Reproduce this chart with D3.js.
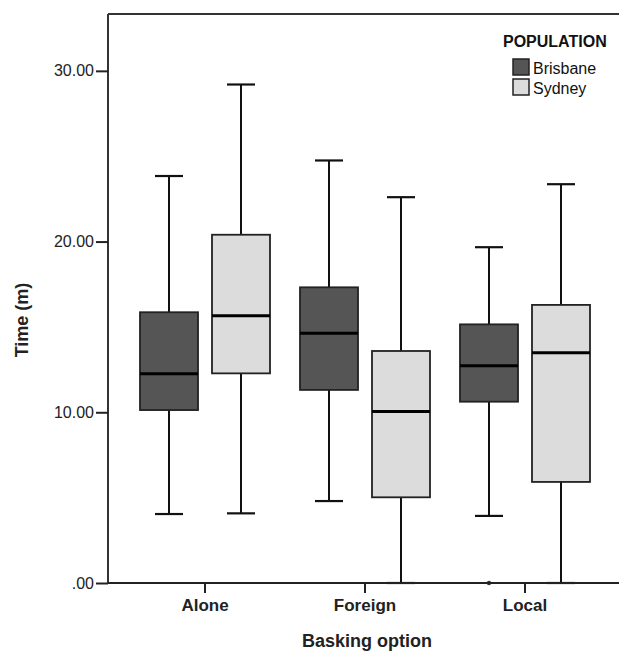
<!DOCTYPE html>
<html>
<head>
<meta charset="utf-8">
<script src="https://cdn.jsdelivr.net/npm/d3@7/dist/d3.min.js"></script>
<style>
  body { margin: 0; background: #fff; }
  svg { display: block; font-family: Arial, "Liberation Sans", sans-serif; }
</style>
</head>
<body>
<div id="chart"></div>
<script>
(function () {

    // categories and groups
    const options = ["Alone", "Foreign", "Local"];
    const populations = ["Brisbane", "Sydney"];

    // five-number summaries per option: [low, q1, median, q3, high]
    const brisbane = [
        [4.04, 10.13, 12.26, 15.86, 23.84],
        [4.80, 11.31, 14.63, 17.32, 24.75],
        [3.93, 10.62, 12.73, 15.15, 19.67]
    ];
    const sydney = [
        [4.08, 12.28, 15.66, 20.40, 29.20],
        [0.00, 5.02, 10.04, 13.59, 22.60],
        [0.00, 5.92, 13.49, 16.29, 23.36]
    ];
    // outliers: [option, population, value]
    const outliers = [["Local", "Brisbane", 0.0]];

    const yTicks = [0, 10, 20, 30];

    const colors = { Brisbane: "#555555", Sydney: "#dcdcdc" };

    // set the dimensions
    var width = 619, height = 654;
    var plot = { left: 108, top: 14, right: 625, bottom: 583 };

    var svg = d3.select("#chart").append("svg")
        .attr("width", width)
        .attr("height", height);

    // scales
    var x = d3.scaleBand().domain(options).range([125, 605]);
    var xPop = d3.scalePoint().domain(populations).range([-36, 36]);
    var y = d3.scaleLinear().domain([0, 33.33]).range([plot.bottom, plot.top]);
    var boxW = 58, capW = 28;

    // build rows
    var rows = [];
    options.forEach(function (o, i) {
        rows.push({ option: o, pop: "Brisbane", v: brisbane[i] });
        rows.push({ option: o, pop: "Sydney", v: sydney[i] });
    });
    function cx(d) { return x(d.option) + x.bandwidth() / 2 + xPop(d.pop); }

    // frame (top line)
    svg.append("line")
        .attr("x1", plot.left).attr("x2", plot.right)
        .attr("y1", plot.top).attr("y2", plot.top)
        .attr("stroke", "#333").attr("stroke-width", 2);
    svg.append("line")
        .attr("x1", plot.left).attr("x2", plot.left)
        .attr("y1", plot.top).attr("y2", plot.bottom)
        .attr("stroke", "#333").attr("stroke-width", 2);

    var g = svg.selectAll("g.box").data(rows).enter().append("g").attr("class", "box");

    // whiskers
    g.append("line")
        .attr("x1", cx).attr("x2", cx)
        .attr("y1", function (d) { return y(d.v[0]); })
        .attr("y2", function (d) { return y(d.v[4]); })
        .attr("stroke", "#111").attr("stroke-width", 2);
    [0, 4].forEach(function (k) {
        g.append("line")
            .attr("x1", function (d) { return cx(d) - capW / 2; })
            .attr("x2", function (d) { return cx(d) + capW / 2; })
            .attr("y1", function (d) { return y(d.v[k]); })
            .attr("y2", function (d) { return y(d.v[k]); })
            .attr("stroke", "#111").attr("stroke-width", 2.2);
    });

    // boxes
    g.append("rect")
        .attr("x", function (d) { return cx(d) - boxW / 2; })
        .attr("y", function (d) { return y(d.v[3]); })
        .attr("width", boxW)
        .attr("height", function (d) { return y(d.v[1]) - y(d.v[3]); })
        .attr("fill", function (d) { return colors[d.pop]; })
        .attr("stroke", "#222").attr("stroke-width", 1.8);

    // medians
    g.append("line")
        .attr("x1", function (d) { return cx(d) - boxW / 2; })
        .attr("x2", function (d) { return cx(d) + boxW / 2; })
        .attr("y1", function (d) { return y(d.v[2]); })
        .attr("y2", function (d) { return y(d.v[2]); })
        .attr("stroke", "#000").attr("stroke-width", 3);

    // outliers
    svg.selectAll("circle.out").data(outliers).enter().append("circle")
        .attr("class", "out")
        .attr("cx", function (d) { return x(d[0]) + x.bandwidth() / 2 + xPop(d[1]); })
        .attr("cy", function (d) { return y(d[2]); })
        .attr("r", 2.2)
        .attr("fill", "#333");

    // Y axis
    var yAxis = svg.append("g")
        .attr("transform", "translate(" + plot.left + ",0)")
        .call(d3.axisLeft(y).tickValues(yTicks).tickSizeInner(12).tickSizeOuter(0).tickPadding(2)
            .tickFormat(function (d) { return d === 0 ? ".00" : d3.format(".2f")(d); }));
    yAxis.select(".domain").remove();
    yAxis.selectAll(".tick line").attr("stroke", "#222").attr("stroke-width", 2);
    yAxis.selectAll(".tick text").attr("font-size", 16).attr("fill", "#222")
        .attr("font-family", "Arial, 'Liberation Sans', sans-serif");

    // X axis
    var xAxis = svg.append("g")
        .attr("transform", "translate(0," + plot.bottom + ")")
        .call(d3.axisBottom(x).tickSizeInner(10).tickSizeOuter(0).tickPadding(6));
    xAxis.select(".domain").attr("d", "M" + plot.left + ",0H" + plot.right)
        .attr("stroke", "#222").attr("stroke-width", 2);
    xAxis.selectAll(".tick line").attr("stroke", "#222").attr("stroke-width", 2);
    xAxis.selectAll(".tick text").attr("font-size", 17).attr("font-weight", "bold")
        .attr("fill", "#222").attr("font-family", "Arial, 'Liberation Sans', sans-serif");

    // axis titles
    svg.append("text")
        .attr("x", 367).attr("y", 647)
        .attr("text-anchor", "middle")
        .attr("font-size", 18).attr("font-weight", "bold").attr("fill", "#222")
        .text("Basking option");
    svg.append("text")
        .attr("transform", "translate(28,320) rotate(-90)")
        .attr("text-anchor", "middle")
        .attr("font-size", 18).attr("font-weight", "bold").attr("fill", "#222")
        .text("Time (m)");

    // legend
    var legend = svg.append("g");
    legend.append("text")
        .attr("x", 503).attr("y", 47)
        .attr("font-size", 16).attr("font-weight", "bold").attr("fill", "#111")
        .text("POPULATION");
    var li = legend.selectAll("g.item").data(populations).enter().append("g")
        .attr("transform", function (d, i) { return "translate(513," + (59 + i * 20) + ")"; });
    li.append("rect")
        .attr("width", 16).attr("height", 16)
        .attr("fill", function (d) { return colors[d]; })
        .attr("stroke", "#222").attr("stroke-width", 1.5);
    li.append("text")
        .attr("x", 20).attr("y", 15)
        .attr("font-size", 16).attr("fill", "#111")
        .text(function (d) { return d; });
})();
</script>
</body>
</html>
